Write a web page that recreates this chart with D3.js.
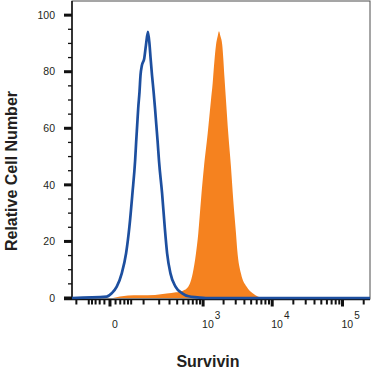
<!DOCTYPE html>
<html>
<head>
<meta charset="utf-8">
<script src="https://cdn.jsdelivr.net/npm/d3@7"></script>
<style>
  html, body { margin: 0; padding: 0; background: #fff; }
  svg { display: block; font-family: "Liberation Sans", Arial, sans-serif; }
</style>
</head>
<body>
<svg id="histogram" width="372" height="373"></svg>
<script>
// isotype control (blue outline), fluorescence value vs relative count
const controlX = [-123, -5.7, 2.9, 12.4, 23.5, 34.7, 44.4, 54.2, 63.9, 67.7, 71.7, 75.8, 81.3, 85.7, 92.1, 103.3, 112.1, 123.1,
  132.5, 138.7, 147.5, 158.2, 168.1, 177.6, 187.6, 198.8, 224.7, 249.2, 273.8, 311, 375.7, 480.8, 603, 820, 1095, 245700];
const controlY = [0, 0.46, 1.66, 4.0, 8.7, 15.8, 25.2, 37.0, 48.8, 55.2, 61.1, 67.0, 72.9, 78.8, 82.3, 84.7, 89.4, 94.1,
  89.4, 84.7, 78.8, 72.9, 67.0, 61.1, 55.2, 48.2, 37.0, 25.2, 15.8, 8.7, 4.0, 1.66, 0.6, 0.25, 0, 0];

// Survivin stained cells (orange fill)
const stainedX = [5.2, 19.3, 40, 83, 168, 269, 383, 494, 596, 697, 782, 847, 929, 1030, 1169, 1308, 1386, 1448, 1549,
  1641, 1714, 1802, 1915, 1981, 2060, 2167, 2340, 2560, 2765, 3025, 3155, 3570, 4315, 5260, 6325, 7630];
const stainedY = [0, 0.5, 0.9, 1.0, 1.1, 1.6, 2.0, 2.6, 4.0, 8.7, 15.8, 22.9, 34.6, 46.4, 58.2, 70.0, 76.0, 82.0, 89.4,
  92.5, 94.3, 92.5, 89.4, 84.7, 78.0, 70.0, 58.2, 46.4, 34.6, 22.9, 17.0, 8.7, 4.0, 1.7, 0.46, 0];

const yMajorTicks = [0, 20, 40, 60, 80, 100];
const yMinorTicks = d3.range(0, 101, 5).filter(d => d % 20 !== 0);
const xMajorTicks = [0, 1e3, 1e4, 1e5];
const xTickExponents = ['', '3', '4', '5'];
const xMinorTicks = [-100, -50, -40, -30, -20, -10, 10, 20, 30, 40, 50,
  100, 200, 300, 400, 500, 600, 700, 800, 900,
  2000, 3000, 4000, 5000, 6000, 7000, 8000, 9000,
  20000, 30000, 40000, 50000, 60000, 70000, 80000, 90000, 200000];

const svg = d3.select('#histogram');
const DIM = { left: 72, right: 370, top: 1, bottom: 298 };
const textColor = '#231f20';

const xScale = d3.scaleSymlog().constant(50)
  .domain([-123, 245700])
  .range([DIM.left, DIM.right]);

const yScale = d3.scaleLinear()
  .domain([0, 105])
  .range([DIM.bottom, DIM.top]);

// frame
svg.append('rect')
  .attr('x', DIM.left).attr('y', DIM.top)
  .attr('width', DIM.right - DIM.left).attr('height', DIM.bottom + 1 - DIM.top)
  .attr('fill', 'none').attr('stroke', '#4d4d4d').attr('stroke-width', 1);

// orange filled histogram
const stained = stainedX.map((x, i) => ({ x: x, y: stainedY[i] }));
const area = d3.area()
  .curve(d3.curveMonotoneX)
  .x(d => xScale(d.x))
  .y0(yScale(0))
  .y1(d => yScale(d.y));
svg.append('path')
  .datum(stained)
  .attr('d', area)
  .attr('fill', '#f5821f');

// y axis
const yAxis = svg.append('g').attr('id', 'y-axis');
yAxis.append('line')
  .attr('x1', DIM.left).attr('x2', DIM.left)
  .attr('y1', DIM.top).attr('y2', DIM.bottom + 2)
  .attr('stroke', '#111').attr('stroke-width', 1.5);
yAxis.selectAll('.minor').data(yMinorTicks).join('line')
  .attr('class', 'minor')
  .attr('x1', DIM.left - 4).attr('x2', DIM.left)
  .attr('y1', d => yScale(d)).attr('y2', d => yScale(d))
  .attr('stroke', '#111').attr('stroke-width', 1.3);
yAxis.selectAll('.major').data(yMajorTicks).join('line')
  .attr('class', 'major')
  .attr('x1', DIM.left - 8).attr('x2', DIM.left)
  .attr('y1', d => yScale(d)).attr('y2', d => yScale(d))
  .attr('stroke', '#111').attr('stroke-width', 3);
yAxis.selectAll('text').data(yMajorTicks).join('text')
  .attr('x', 55)
  .attr('y', d => yScale(d))
  .attr('dy', '0.35em')
  .attr('text-anchor', 'end')
  .attr('font-size', 10.5)
  .attr('fill', textColor)
  .text(d => d);

// x axis
const xAxis = svg.append('g').attr('id', 'x-axis');
const axisY = DIM.bottom + 1.5;
xAxis.append('line')
  .attr('x1', DIM.left - 8).attr('x2', DIM.right)
  .attr('y1', axisY).attr('y2', axisY)
  .attr('stroke', '#111').attr('stroke-width', 1.5);
xAxis.selectAll('.minor').data(xMinorTicks).join('line')
  .attr('class', 'minor')
  .attr('x1', d => xScale(d)).attr('x2', d => xScale(d))
  .attr('y1', axisY).attr('y2', axisY + 5)
  .attr('stroke', '#111').attr('stroke-width', 2);
xAxis.selectAll('.major').data(xMajorTicks).join('line')
  .attr('class', 'major')
  .attr('x1', d => xScale(d)).attr('x2', d => xScale(d))
  .attr('y1', axisY).attr('y2', axisY + 7)
  .attr('stroke', '#111').attr('stroke-width', 3);

const labels = xAxis.selectAll('text').data(xMajorTicks).join('text')
  .attr('y', 328)
  .attr('font-size', 10.5)
  .attr('fill', textColor)
  .attr('x', (d, i) => i === 0 ? xScale(d) + 5 : xScale(d) - 1)
  .attr('text-anchor', (d, i) => i === 0 ? 'middle' : 'start');
labels.append('tspan').text((d, i) => i === 0 ? '0' : '10');
labels.filter((d, i) => i > 0)
  .append('tspan')
  .attr('dy', -9)
  .attr('dx', 1)
  .attr('font-size', 10)
  .text((d, i) => xTickExponents[i + 1]);

// blue control outline
const control = controlX.map((x, i) => ({ x: x, y: controlY[i] }));
const line = d3.line()
  .curve(d3.curveMonotoneX)
  .x(d => xScale(d.x))
  .y(d => yScale(d.y));
svg.append('path')
  .datum(control)
  .attr('d', line)
  .attr('fill', 'none')
  .attr('stroke', '#1d4f9f')
  .attr('stroke-width', 2.7)
  .attr('stroke-linejoin', 'round');

// axis titles
svg.append('text')
  .attr('transform', 'translate(17,171) rotate(-90)')
  .attr('text-anchor', 'middle')
  .attr('font-size', 16)
  .attr('font-weight', 'bold')
  .attr('fill', textColor)
  .text('Relative Cell Number');

svg.append('text')
  .attr('x', 208)
  .attr('y', 367)
  .attr('text-anchor', 'middle')
  .attr('font-size', 16)
  .attr('font-weight', 'bold')
  .attr('fill', textColor)
  .text('Survivin');
</script>
</body>
</html>
